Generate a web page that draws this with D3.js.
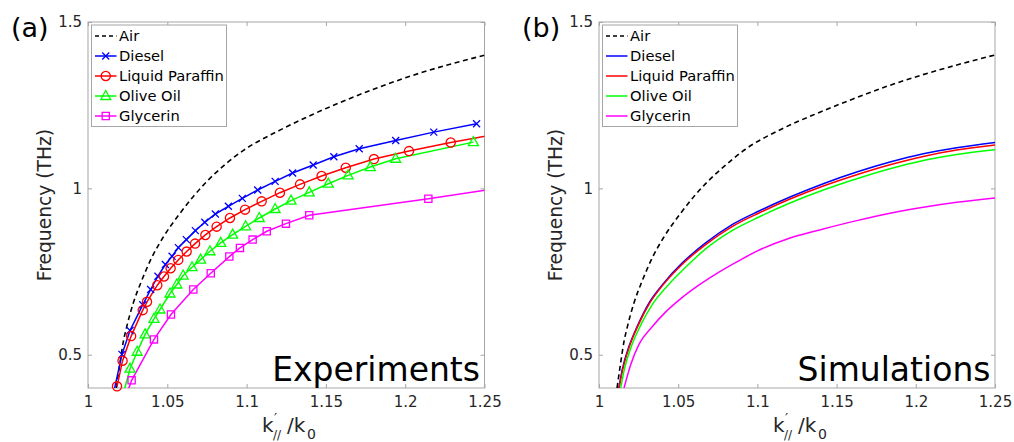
<!DOCTYPE html>
<html><head><meta charset="utf-8">
<script src="https://cdn.jsdelivr.net/npm/d3@7"></script>
<style>body{margin:0;background:#fff;} svg{display:block;font-family:"DejaVu Sans",sans-serif;}</style>
</head><body><svg id="c" width="1014" height="442"></svg>
<script>
const xTicks=[1,1.05,1.1,1.15,1.2,1.25];
const yTicks=[0.5,1,1.5];
const xTickLabels=["1","1.05","1.1","1.15","1.2","1.25"];
const yTickLabels=["0.5","1","1.5"];
const seriesNames=["Air","Diesel","Liquid Paraffin","Olive Oil","Glycerin"];
const seriesColors=["#000000","#0000ff","#ff0000","#00ff00","#ff00ff"];
const markerTypes=[null,"x","circle","triangle","square"];
const panelLetters=["(a)","(b)"];
const panelTitles=["Experiments","Simulations"];

// (a) Experiments
const expAirK=[1.0179,1.020,1.0223,1.0242,1.0286,1.0336,1.040,1.047,1.058,1.0748,1.086,1.098,1.121,1.142,1.163,1.184,1.205,1.226,1.25];
const expAirF=[0.40,0.47,0.54,0.58,0.656,0.72,0.79,0.85,0.925,1.02,1.07,1.114,1.175,1.223,1.266,1.305,1.34,1.37,1.40];
const expDieselK=[1.0150,1.0214,1.0265,1.0345,1.0395,1.0441,1.0488,1.053,1.057,1.062,1.0677,1.0736,1.0803,1.0885,1.0973,1.107,1.118,1.129,1.142,1.155,1.171,1.194,1.218,1.245];
const expDieselF=[0.36,0.501,0.573,0.650,0.696,0.736,0.771,0.796,0.822,0.846,0.873,0.898,0.923,0.946,0.970,0.995,1.021,1.046,1.070,1.095,1.119,1.144,1.169,1.194];
const expParaffinK=[1.0183,1.0218,1.0272,1.0345,1.0372,1.0437,1.0479,1.0521,1.0569,1.0622,1.0675,1.074,1.0811,1.0895,1.099,1.1095,1.121,1.1337,1.1473,1.1625,1.1803,1.2024,1.2287,1.258];
const expParaffinF=[0.405,0.482,0.556,0.634,0.659,0.709,0.735,0.760,0.785,0.810,0.834,0.860,0.885,0.911,0.936,0.961,0.987,1.012,1.037,1.062,1.088,1.112,1.138,1.163];
const expOliveK=[1.0215,1.0265,1.031,1.036,1.0416,1.0454,1.0517,1.056,1.060,1.0656,1.071,1.0769,1.0837,1.0912,1.0994,1.108,1.118,1.128,1.1395,1.1515,1.164,1.178,1.194,1.243];
const expOliveF=[0.37,0.458,0.509,0.561,0.608,0.636,0.684,0.711,0.738,0.763,0.786,0.811,0.836,0.861,0.886,0.911,0.938,0.963,0.988,1.014,1.039,1.064,1.089,1.139];
const expGlycerinK=[1.0235,1.0275,1.0416,1.0523,1.0664,1.0774,1.0891,1.0958,1.1038,1.1127,1.1248,1.1395,1.2146,1.28];
const expGlycerinF=[0.37,0.423,0.546,0.621,0.696,0.745,0.795,0.821,0.846,0.871,0.894,0.919,0.969,1.015];

// (b) Simulations
const simAirK=[1.0114,1.0135,1.0158,1.0177,1.0221,1.0271,1.0335,1.0405,1.0515,1.0685,1.080,1.092,1.116,1.138,1.160,1.182,1.204,1.226,1.25];
const simAirF=[0.40,0.47,0.54,0.58,0.656,0.72,0.79,0.85,0.925,1.02,1.07,1.116,1.18,1.226,1.268,1.307,1.341,1.371,1.401];
const simDieselK=[1.0125,1.0147,1.019,1.0242,1.0316,1.041,1.0526,1.0673,1.084,1.101,1.1206,1.1416,1.1627,1.1837,1.2047,1.2258,1.25];
const simDieselF=[0.40,0.456,0.526,0.586,0.656,0.716,0.776,0.836,0.891,0.932,0.974,1.014,1.049,1.079,1.104,1.122,1.138];
const simParaffinK=[1.0127,1.015,1.0193,1.0245,1.032,1.041,1.0526,1.0673,1.084,1.101,1.1206,1.1416,1.1627,1.1837,1.2047,1.2258,1.25];
const simParaffinF=[0.40,0.456,0.526,0.586,0.655,0.713,0.772,0.831,0.885,0.926,0.968,1.007,1.041,1.071,1.096,1.115,1.130];
const simOliveK=[1.0137,1.016,1.0205,1.026,1.0335,1.043,1.0545,1.0673,1.084,1.101,1.1206,1.1416,1.1627,1.1837,1.2047,1.2258,1.25];
const simOliveF=[0.40,0.456,0.526,0.586,0.650,0.706,0.762,0.818,0.873,0.914,0.956,0.995,1.029,1.059,1.084,1.102,1.116];
const simGlycerinK=[1.0158,1.020,1.0253,1.0337,1.042,1.052,1.063,1.075,1.087,1.1,1.1206,1.1416,1.1627,1.1837,1.2047,1.2258,1.25];
const simGlycerinF=[0.40,0.47,0.532,0.585,0.628,0.67,0.709,0.746,0.779,0.812,0.851,0.878,0.903,0.925,0.943,0.958,0.971];

const zip=(k,f)=>k.map((v,i)=>({k:v,f:f[i]}));
const panels=[
 {x0:88,x1:484.5,y0:22,y1:388,legX:91.5,exp:true,
  series:[zip(expAirK,expAirF),zip(expDieselK,expDieselF),zip(expParaffinK,expParaffinF),zip(expOliveK,expOliveF),zip(expGlycerinK,expGlycerinF)]},
 {x0:599,x1:995,y0:22,y1:388,legX:602.5,exp:false,
  series:[zip(simAirK,simAirF),zip(simDieselK,simDieselF),zip(simParaffinK,simParaffinF),zip(simOliveK,simOliveF),zip(simGlycerinK,simGlycerinF)]}
];

const svg=d3.select("#c");
svg.append("rect").attr("width",1014).attr("height",442).attr("fill","#fff");
const axisGray="#a6a6a6", textCol="#262626";

function marker(g,type,color){
  if(type==="x") g.append("path").attr("d","M-3.5,-3.5L3.5,3.5M-3.5,3.5L3.5,-3.5").attr("stroke",color).attr("stroke-width",1.3).attr("fill","none");
  else if(type==="circle") g.append("circle").attr("r",4.6).attr("stroke",color).attr("stroke-width",1.3).attr("fill","none");
  else if(type==="triangle") g.append("path").attr("d","M0,-5.5L5,3.5L-5,3.5Z").attr("stroke",color).attr("stroke-width",1.3).attr("fill","none");
  else if(type==="square") g.append("path").attr("d","M-3.6,-3.6h7.2v7.2h-7.2Z").attr("stroke",color).attr("stroke-width",1.3).attr("fill","none");
}

panels.forEach((p,pi)=>{
  const x=d3.scaleLinear().domain([1,1.25]).range([p.x0,p.x1]);
  const y=d3.scaleLinear().domain([0.4,1.5]).range([p.y1,p.y0]);
  const g=svg.append("g");
  const clipId="clip"+pi;
  svg.append("clipPath").attr("id",clipId).append("rect").attr("x",p.x0).attr("y",p.y0).attr("width",p.x1-p.x0).attr("height",p.y1-p.y0);

  g.append("rect").attr("x",p.x0).attr("y",p.y0).attr("width",p.x1-p.x0).attr("height",p.y1-p.y0)
   .attr("fill","none").attr("stroke",axisGray).attr("stroke-width",1);

  const axB=d3.axisBottom(x).tickValues(xTicks).tickFormat((d,i)=>xTickLabels[i]).tickSizeInner(-4).tickSizeOuter(0).tickPadding(8);
  const axT=d3.axisTop(x).tickValues(xTicks).tickFormat("").tickSizeInner(-4).tickSizeOuter(0);
  const axL=d3.axisLeft(y).tickValues(yTicks).tickFormat((d,i)=>yTickLabels[i]).tickSizeInner(-4).tickSizeOuter(0).tickPadding(6);
  const axR=d3.axisRight(y).tickValues(yTicks).tickFormat("").tickSizeInner(-4).tickSizeOuter(0);
  [[axB,`translate(0,${p.y1})`],[axT,`translate(0,${p.y0})`],[axL,`translate(${p.x0},0)`],[axR,`translate(${p.x1},0)`]].forEach(([a,t])=>{
    const ag=g.append("g").attr("transform",t).call(a);
    ag.select(".domain").remove();
    ag.selectAll("line").attr("stroke",axisGray);
    ag.selectAll("text").attr("fill",textCol).style("font-size","15px").style("font-family","DejaVu Sans");
  });

  const lineS=d3.line().x(d=>x(d.k)).y(d=>y(d.f));
  const lineC=d3.line().x(d=>x(d.k)).y(d=>y(d.f)).curve(d3.curveMonotoneX);
  const plot=g.append("g").attr("clip-path",`url(#${clipId})`);
  p.series.forEach((s,si)=>{
    const isAir=si===0;
    plot.append("path").datum(s)
      .attr("d",(p.exp&&!isAir)?lineS:lineC)
      .attr("fill","none").attr("stroke",seriesColors[si])
      .attr("stroke-width",isAir?1.6:1.5)
      .attr("stroke-dasharray",isAir?"5,3.6":null);
  });
  if(p.exp){
    p.series.forEach((s,si)=>{
      if(!markerTypes[si]) return;
      s.filter(d=>d.k>=1&&d.k<=1.25&&d.f>=0.4&&d.f<=1.5).forEach(d=>{
        const mg=g.append("g").attr("transform",`translate(${x(d.k)},${y(d.f)})`);
        marker(mg,markerTypes[si],seriesColors[si]);
      });
    });
  }

  const lg=g.append("g");
  lg.append("rect").attr("x",p.legX).attr("y",25).attr("width",135).attr("height",101.5)
    .attr("fill","#fff").attr("stroke",axisGray).attr("stroke-width",1);
  seriesNames.forEach((n,si)=>{
    const ry=36+si*20;
    const lx0=p.legX+3.5, lx1=p.legX+25;
    lg.append("line").attr("x1",lx0).attr("x2",lx1).attr("y1",ry).attr("y2",ry)
      .attr("stroke",seriesColors[si]).attr("stroke-width",1.5)
      .attr("stroke-dasharray",si===0?"4,3":null);
    if(p.exp && markerTypes[si]){
      const mg=lg.append("g").attr("transform",`translate(${(lx0+lx1)/2},${ry})`);
      marker(mg,markerTypes[si],seriesColors[si]);
    }
    lg.append("text").attr("x",p.legX+27.5).attr("y",ry).attr("dy","0.36em")
      .attr("fill","#000").style("font-size","14.7px").text(n);
  });

  g.append("text").attr("x",p.x1-4.5).attr("y",381).attr("text-anchor","end")
    .style("font-size","33px").attr("fill","#000").text(panelTitles[pi]);

  svg.append("text").attr("x",p.x0-77).attr("y",37).style("font-size","27px").attr("fill","#000").text(panelLetters[pi]);

  const cy=(p.y0+p.y1)/2;
  svg.append("text").attr("transform",`translate(${p.x0-37},${cy}) rotate(-90)`)
    .attr("text-anchor","middle").style("font-size","18.7px").attr("fill",textCol).text("Frequency (THz)");

  const xl=svg.append("g").attr("fill",textCol);
  const bx=p.x0+174;
  xl.append("text").attr("x",bx).attr("y",432).style("font-size","20px").text("k");
  xl.append("text").attr("x",bx+12).attr("y",423).style("font-size","14px").text("′");
  xl.append("text").attr("x",bx+11).attr("y",439).style("font-size","12px").text("//");
  xl.append("text").attr("x",bx+25).attr("y",432).style("font-size","20px").text("/k");
  xl.append("text").attr("x",bx+45).attr("y",439).style("font-size","14px").text("0");
});
</script></body></html>
